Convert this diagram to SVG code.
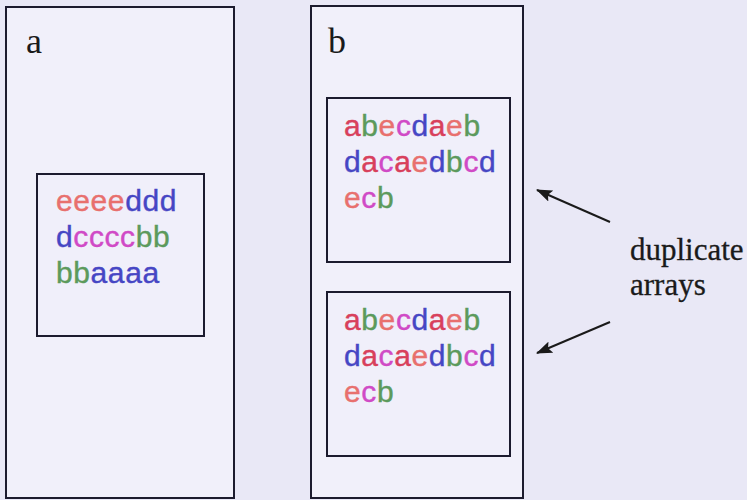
<svg xmlns="http://www.w3.org/2000/svg" width="747" height="500" viewBox="0 0 747 500">
  <style>
    .panel { fill: #f1f0fa; stroke: #1c1b2e; stroke-width: 2; }
    .box { fill: #f0effa; stroke: #1c1b2e; stroke-width: 2; }
    .label { font-family: "Liberation Serif", "Times New Roman", serif; font-size: 36px; fill: #1a1a1a; }
    .note { font-family: "Liberation Serif", "Times New Roman", serif; font-size: 31px; fill: #1a1a1a; stroke: #1a1a1a; stroke-width: 0.3; }
    .seq { font-family: "Liberation Sans", Arial, sans-serif; font-size: 30px; letter-spacing: 0.6px; stroke-width: 0.4; }
    .e { fill: #e8706e; stroke: #e8706e; }
    .a { fill: #d8405c; stroke: #d8405c; }
    .d { fill: #4646c4; stroke: #4646c4; }
    .c { fill: #d04ac6; stroke: #d04ac6; }
    .b { fill: #5c9a5c; stroke: #5c9a5c; }
    .arrow { stroke: #1a1a1a; stroke-width: 2; fill: none; marker-end: url(#head); }
  </style>
  <defs>
    <!-- filled arrowhead, tip at the line end -->
    <marker id="head" viewBox="0 0 16 12" refX="15" refY="6" markerWidth="16" markerHeight="12" markerUnits="userSpaceOnUse" orient="auto">
      <path d="M0,0 L16,6 L0,12 L3,6 z" fill="#1a1a1a"/>
    </marker>
  </defs>

  <rect x="0" y="0" width="747" height="500" fill="#e9e8f6"/>

  <!-- panel a -->
  <g id="panel-a">
    <rect class="panel" x="6" y="7" width="228" height="491"/>
    <text class="label" x="26" y="53">a</text>
  </g>
  <g id="array-a">
    <rect class="box" x="37" y="174" width="167" height="162"/>
    <text class="seq" x="56" y="211"><tspan class="e">eeee</tspan><tspan class="d">ddd</tspan></text>
    <text class="seq" x="56" y="247"><tspan class="d">d</tspan><tspan class="c">cccc</tspan><tspan class="b">bb</tspan></text>
    <text class="seq" x="56" y="283"><tspan class="b">bb</tspan><tspan class="d">aaaa</tspan></text>
  </g>

  <!-- panel b -->
  <g id="panel-b">
    <rect class="panel" x="311" y="6" width="212" height="492"/>
    <text class="label" x="328" y="53">b</text>
  </g>
  <g id="array-b1">
    <rect class="box" x="327" y="98" width="183" height="164"/>
    <text class="seq" x="344" y="136"><tspan class="a">a</tspan><tspan class="b">b</tspan><tspan class="e">e</tspan><tspan class="c">c</tspan><tspan class="d">d</tspan><tspan class="a">a</tspan><tspan class="e">e</tspan><tspan class="b">b</tspan></text>
    <text class="seq" x="344" y="172"><tspan class="d">d</tspan><tspan class="a">a</tspan><tspan class="c">c</tspan><tspan class="a">a</tspan><tspan class="e">e</tspan><tspan class="d">d</tspan><tspan class="b">b</tspan><tspan class="c">c</tspan><tspan class="d">d</tspan></text>
    <text class="seq" x="344" y="208"><tspan class="e">e</tspan><tspan class="c">c</tspan><tspan class="b">b</tspan></text>
  </g>
  <g id="array-b2">
    <rect class="box" x="327" y="292" width="183" height="164"/>
    <text class="seq" x="344" y="330"><tspan class="a">a</tspan><tspan class="b">b</tspan><tspan class="e">e</tspan><tspan class="c">c</tspan><tspan class="d">d</tspan><tspan class="a">a</tspan><tspan class="e">e</tspan><tspan class="b">b</tspan></text>
    <text class="seq" x="344" y="366"><tspan class="d">d</tspan><tspan class="a">a</tspan><tspan class="c">c</tspan><tspan class="a">a</tspan><tspan class="e">e</tspan><tspan class="d">d</tspan><tspan class="b">b</tspan><tspan class="c">c</tspan><tspan class="d">d</tspan></text>
    <text class="seq" x="344" y="402"><tspan class="e">e</tspan><tspan class="c">c</tspan><tspan class="b">b</tspan></text>
  </g>

  <!-- callout -->
  <g id="note">
    <text class="note" x="630" y="260">duplicate</text>
    <text class="note" x="630" y="295">arrays</text>
  </g>
  <g id="connectors">
    <line class="arrow" x1="610" y1="222" x2="537" y2="190"/>
    <line class="arrow" x1="610" y1="322" x2="537" y2="353"/>
  </g>
</svg>
